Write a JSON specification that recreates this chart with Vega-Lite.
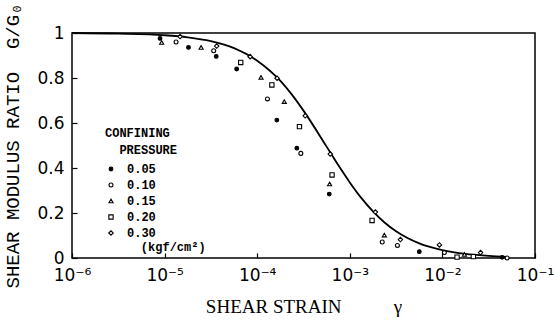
{
  "$schema": "https://vega.github.io/schema/vega-lite/v6.json",
  "width": 463,
  "height": 225,
  "autosize": {"type": "none"},
  "padding": {"left": 72, "top": 33, "right": 20, "bottom": 68},
  "background": "white",
  "datasets": {
    "points": [
      {"g": 8.93e-6, "r": 0.976, "p": "0.05"},
      {"g": 9.29e-6, "r": 0.958, "p": "0.15"},
      {"g": 1.33e-5, "r": 0.960, "p": "0.10"},
      {"g": 1.47e-5, "r": 0.984, "p": "0.30"},
      {"g": 1.81e-5, "r": 0.936, "p": "0.05"},
      {"g": 2.48e-5, "r": 0.936, "p": "0.15"},
      {"g": 3.65e-5, "r": 0.942, "p": "0.30"},
      {"g": 3.39e-5, "r": 0.921, "p": "0.10"},
      {"g": 3.61e-5, "r": 0.896, "p": "0.05"},
      {"g": 6.64e-5, "r": 0.869, "p": "0.20"},
      {"g": 6.0e-5, "r": 0.840, "p": "0.05"},
      {"g": 8.39e-5, "r": 0.895, "p": "0.30"},
      {"g": 1.10e-4, "r": 0.803, "p": "0.15"},
      {"g": 1.64e-4, "r": 0.799, "p": "0.30"},
      {"g": 1.44e-4, "r": 0.769, "p": "0.20"},
      {"g": 1.29e-4, "r": 0.707, "p": "0.10"},
      {"g": 1.96e-4, "r": 0.695, "p": "0.15"},
      {"g": 1.63e-4, "r": 0.613, "p": "0.05"},
      {"g": 3.30e-4, "r": 0.632, "p": "0.30"},
      {"g": 2.86e-4, "r": 0.584, "p": "0.20"},
      {"g": 2.68e-4, "r": 0.488, "p": "0.05"},
      {"g": 2.96e-4, "r": 0.465, "p": "0.10"},
      {"g": 6.15e-4, "r": 0.462, "p": "0.30"},
      {"g": 6.43e-4, "r": 0.369, "p": "0.20"},
      {"g": 6.05e-4, "r": 0.329, "p": "0.15"},
      {"g": 6.0e-4, "r": 0.284, "p": "0.05"},
      {"g": 1.89e-3, "r": 0.204, "p": "0.30"},
      {"g": 1.74e-3, "r": 0.167, "p": "0.20"},
      {"g": 2.36e-3, "r": 0.102, "p": "0.15"},
      {"g": 2.24e-3, "r": 0.071, "p": "0.10"},
      {"g": 3.52e-3, "r": 0.082, "p": "0.30"},
      {"g": 3.27e-3, "r": 0.056, "p": "0.10"},
      {"g": 5.63e-3, "r": 0.028, "p": "0.05"},
      {"g": 9.29e-3, "r": 0.058, "p": "0.30"},
      {"g": 1.05e-2, "r": 0.024, "p": "0.10"},
      {"g": 1.44e-2, "r": 0.004, "p": "0.20"},
      {"g": 1.73e-2, "r": 0.016, "p": "0.15"},
      {"g": 2.16e-2, "r": 0.006, "p": "0.20"},
      {"g": 2.58e-2, "r": 0.024, "p": "0.30"},
      {"g": 4.42e-2, "r": 0.003, "p": "0.05"},
      {"g": 5.0e-2, "r": 0.0, "p": "0.10"}
    ],
    "curve": [
      {"g": 1e-6, "r": 1.0},
      {"g": 3.16e-6, "r": 0.997},
      {"g": 1e-5, "r": 0.99},
      {"g": 1.78e-5, "r": 0.981},
      {"g": 3.16e-5, "r": 0.964},
      {"g": 5.62e-5, "r": 0.933},
      {"g": 1e-4, "r": 0.877},
      {"g": 1.78e-4, "r": 0.787},
      {"g": 2.37e-4, "r": 0.726},
      {"g": 3.16e-4, "r": 0.655},
      {"g": 5.62e-4, "r": 0.495},
      {"g": 7.5e-4, "r": 0.413},
      {"g": 1e-3, "r": 0.336},
      {"g": 1.33e-3, "r": 0.267},
      {"g": 1.78e-3, "r": 0.207},
      {"g": 2.37e-3, "r": 0.158},
      {"g": 3.16e-3, "r": 0.119},
      {"g": 5.62e-3, "r": 0.065},
      {"g": 1e-2, "r": 0.035},
      {"g": 1.78e-2, "r": 0.018},
      {"g": 3.16e-2, "r": 0.0095},
      {"g": 5e-2, "r": 0.005}
    ]
  },
  "layer": [
    {
      "data": {"name": "curve"},
      "mark": {"type": "line", "color": "black", "strokeWidth": 1.8, "interpolate": "monotone"},
      "encoding": {
        "x": {
          "field": "g", "type": "quantitative",
          "scale": {"type": "log", "domain": [1e-6, 1e-1], "nice": false},
          "axis": {
            "title": "SHEAR STRAIN\u00a0\u00a0\u00a0\u00a0\u00a0\u00a0\u00a0\u00a0\u00a0\u00a0\u00a0γ",
            "values": [1e-6, 1e-5, 1e-4, 1e-3, 1e-2, 1e-1],
            "labelExpr": "datum.value < 5e-6 ? '10⁻⁶' : datum.value < 5e-5 ? '10⁻⁵' : datum.value < 5e-4 ? '10⁻⁴' : datum.value < 5e-3 ? '10⁻³' : datum.value < 5e-2 ? '10⁻²' : '10⁻¹'",
            "labelFlush": false,
            "labelOverlap": false
          }
        },
        "y": {
          "field": "r", "type": "quantitative",
          "scale": {"domain": [0, 1], "nice": false},
          "axis": {
            "title": "SHEAR MODULUS RATIO\u00a0\u00a0G/G₀",
            "values": [0, 0.2, 0.4, 0.6, 0.8, 1],
            "format": "~g",
            "labelFlush": false,
            "labelOverlap": false
          }
        }
      }
    },
    {
      "data": {"name": "points"},
      "mark": {"type": "point", "strokeWidth": 1.1, "opacity": 1},
      "encoding": {
        "x": {"field": "g", "type": "quantitative"},
        "y": {"field": "r", "type": "quantitative"},
        "shape": {
          "field": "p", "type": "nominal",
          "scale": {"domain": ["0.05", "0.10", "0.15", "0.20", "0.30"], "range": ["circle", "circle", "triangle-up", "square", "diamond"]},
          "legend": {"title": ["CONFINING", "\u200b\u00a0\u00a0PRESSURE"]}
        },
        "fill": {
          "field": "p", "type": "nominal",
          "scale": {"domain": ["0.05", "0.10", "0.15", "0.20", "0.30"], "range": ["black", "white", "white", "white", "white"]},
          "legend": {"title": ["CONFINING", "\u200b\u00a0\u00a0PRESSURE"]}
        },
        "stroke": {
          "field": "p", "type": "nominal",
          "scale": {"domain": ["0.05", "0.10", "0.15", "0.20", "0.30"], "range": ["black", "black", "black", "black", "black"]},
          "legend": {"title": ["CONFINING", "\u200b\u00a0\u00a0PRESSURE"]}
        },
        "size": {
          "field": "p", "type": "nominal",
          "scale": {"domain": ["0.05", "0.10", "0.15", "0.20", "0.30"], "range": [14, 20, 30, 22, 30]},
          "legend": {"title": ["CONFINING", "\u200b\u00a0\u00a0PRESSURE"]}
        }
      }
    },
    {
      "data": {"values": [{}]},
      "mark": {"type": "text", "text": "(kgf/cm²)", "font": "Liberation Mono", "fontWeight": "bold", "fontSize": 12, "align": "center", "baseline": "middle", "color": "black"},
      "encoding": {
        "x": {"datum": 1.24e-5, "type": "quantitative"},
        "y": {"datum": 0.049, "type": "quantitative"}
      }
    }
  ],
  "config": {
    "view": {"stroke": "black", "strokeWidth": 1.5},
    "axis": {
      "domain": false,
      "grid": false,
      "ticks": true,
      "tickSize": -5,
      "tickColor": "black",
      "tickWidth": 1.2,
      "labelFont": "DejaVu Sans",
      "labelFontSize": 17,
      "labelColor": "black",
      "titleColor": "black",
      "titleFontWeight": "normal"
    },
    "axisX": {"labelPadding": 14, "titleFont": "Liberation Serif", "titleFontSize": 19, "titlePadding": 14},
    "axisY": {"labelPadding": 13, "titleFont": "Liberation Mono", "titleFontSize": 19, "titlePadding": 14},
    "legend": {
      "orient": "none",
      "legendX": 33,
      "legendY": 95,
      "padding": 0,
      "titleFont": "Liberation Mono",
      "titleFontSize": 12,
      "titleFontWeight": "bold",
      "titleColor": "black",
      "titlePadding": 6,
      "titleLineHeight": 17,
      "labelFont": "Liberation Mono",
      "labelFontSize": 12,
      "labelFontWeight": "bold",
      "labelColor": "black",
      "labelOffset": 10,
      "rowPadding": 4,
      "symbolStrokeWidth": 1.1
    }
  }
}
